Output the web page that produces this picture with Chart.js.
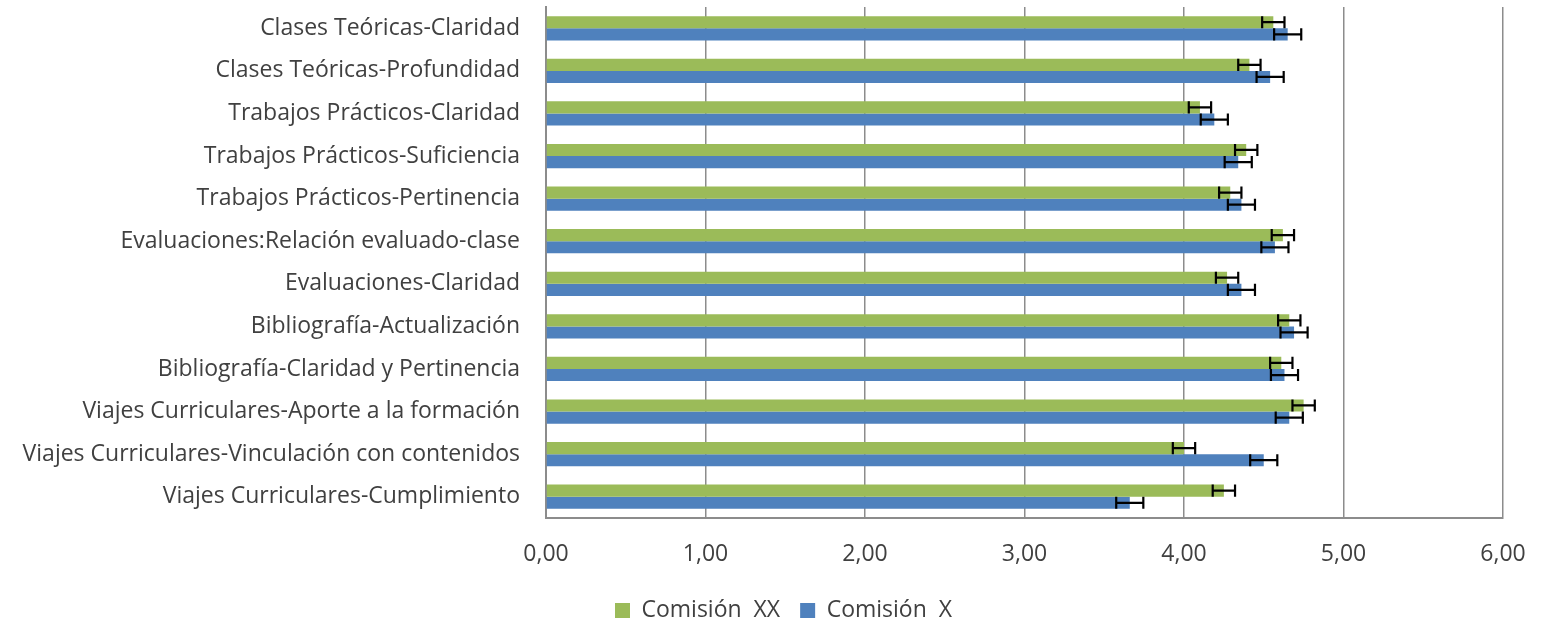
<!DOCTYPE html>
<html>
<head>
<meta charset="utf-8">
<script src="https://cdn.jsdelivr.net/npm/chart.js@4/dist/chart.umd.min.js"></script>
<style>
  html, body { margin: 0; padding: 0; background: #fff; }
  #wrap { width: 1553px; height: 623px; }
</style>
</head>
<body>
<div id="wrap"><canvas id="chart" width="1553" height="623"></canvas></div>
<script>
// Datos
const categories = [
  'Clases Teóricas-Claridad',
  'Clases Teóricas-Profundidad',
  'Trabajos Prácticos-Claridad',
  'Trabajos Prácticos-Suficiencia',
  'Trabajos Prácticos-Pertinencia',
  'Evaluaciones:Relación evaluado-clase',
  'Evaluaciones-Claridad',
  'Bibliografía-Actualización',
  'Bibliografía-Claridad y Pertinencia',
  'Viajes Curriculares-Aporte a la formación',
  'Viajes Curriculares-Vinculación con contenidos',
  'Viajes Curriculares-Cumplimiento'
];
const seriesNames = ['Comisión  XX', 'Comisión  X'];
const comisionXX = [4.56, 4.41, 4.10, 4.39, 4.29, 4.62, 4.27, 4.66, 4.61, 4.75, 4.00, 4.25];
const comisionX  = [4.65, 4.54, 4.19, 4.34, 4.36, 4.57, 4.36, 4.69, 4.63, 4.66, 4.50, 3.66];
const errorXX = [0.07, 0.07, 0.07, 0.07, 0.07, 0.07, 0.07, 0.07, 0.07, 0.07, 0.07, 0.07];
const errorX  = [0.085, 0.085, 0.085, 0.085, 0.085, 0.085, 0.085, 0.085, 0.085, 0.085, 0.085, 0.085];
const xTicks = [0, 1, 2, 3, 4, 5, 6];

const FONT = 'Open Sans';
const TEXT = '#404040';

// Barras de error: se dibujan sobre cada barra usando la escala x
const errorBars = {
  id: 'errorBars',
  afterDatasetsDraw(chart) {
    const ctx = chart.ctx;
    const x = chart.scales.x;
    const errs = [errorXX, errorX];
    ctx.save();
    ctx.strokeStyle = '#000';
    ctx.lineWidth = 2.2;
    chart.data.datasets.forEach((ds, di) => {
      chart.getDatasetMeta(di).data.forEach((bar, i) => {
        const v = ds.data[i];
        const x1 = x.getPixelForValue(v - errs[di][i]);
        const x2 = x.getPixelForValue(v + errs[di][i]);
        const h = bar.height / 2;
        ctx.beginPath();
        ctx.moveTo(x1, bar.y); ctx.lineTo(x2, bar.y);
        ctx.moveTo(x1, bar.y - h); ctx.lineTo(x1, bar.y + h);
        ctx.moveTo(x2, bar.y - h); ctx.lineTo(x2, bar.y + h);
        ctx.stroke();
      });
    });
    ctx.restore();
  }
};

new Chart(document.getElementById('chart'), {
  type: 'bar',
  data: {
    labels: categories,
    datasets: [
      { label: seriesNames[0], data: comisionXX, backgroundColor: '#9BBB59' },
      { label: seriesNames[1], data: comisionX, backgroundColor: '#4F81BD' }
    ]
  },
  options: {
    indexAxis: 'y',
    responsive: false,
    animation: false,
    devicePixelRatio: 1,
    // left padding nudges the legend centre to the right, like the original
    layout: { padding: { top: 7, right: 0, left: 14, bottom: -9 } },
    datasets: { bar: { categoryPercentage: 0.57, barPercentage: 1.0 } },
    plugins: {
      tooltip: { enabled: false },
      legend: {
        position: 'bottom',
        labels: {
          font: { family: FONT, size: 23 },
          color: TEXT,
          boxWidth: 15,
          boxHeight: 15,
          padding: 20
        }
      }
    },
    scales: {
      x: {
        min: 0,
        max: 6,
        afterBuildTicks: s => { s.ticks = xTicks.map(v => ({ value: v })); },
        afterFit: s => { s.height = 61; s.paddingRight = 50; },
        ticks: {
          font: { family: FONT, size: 23 },
          color: TEXT,
          padding: 23,
          callback: v => v.toFixed(2).replace('.', ',')
        },
        grid: { color: '#8c8c8c', lineWidth: 1.5, drawTicks: false },
        border: { color: '#8c8c8c', width: 2 }
      },
      y: {
        afterFit: s => { s.width = 532; s.paddingTop = 0; s.paddingBottom = 0; },
        ticks: {
          font: { family: FONT, size: 23 },
          color: TEXT,
          padding: 26
        },
        grid: { display: false, drawTicks: false },
        border: { color: '#8c8c8c', width: 2 }
      }
    }
  },
  plugins: [errorBars]
});
</script>
</body>
</html>
